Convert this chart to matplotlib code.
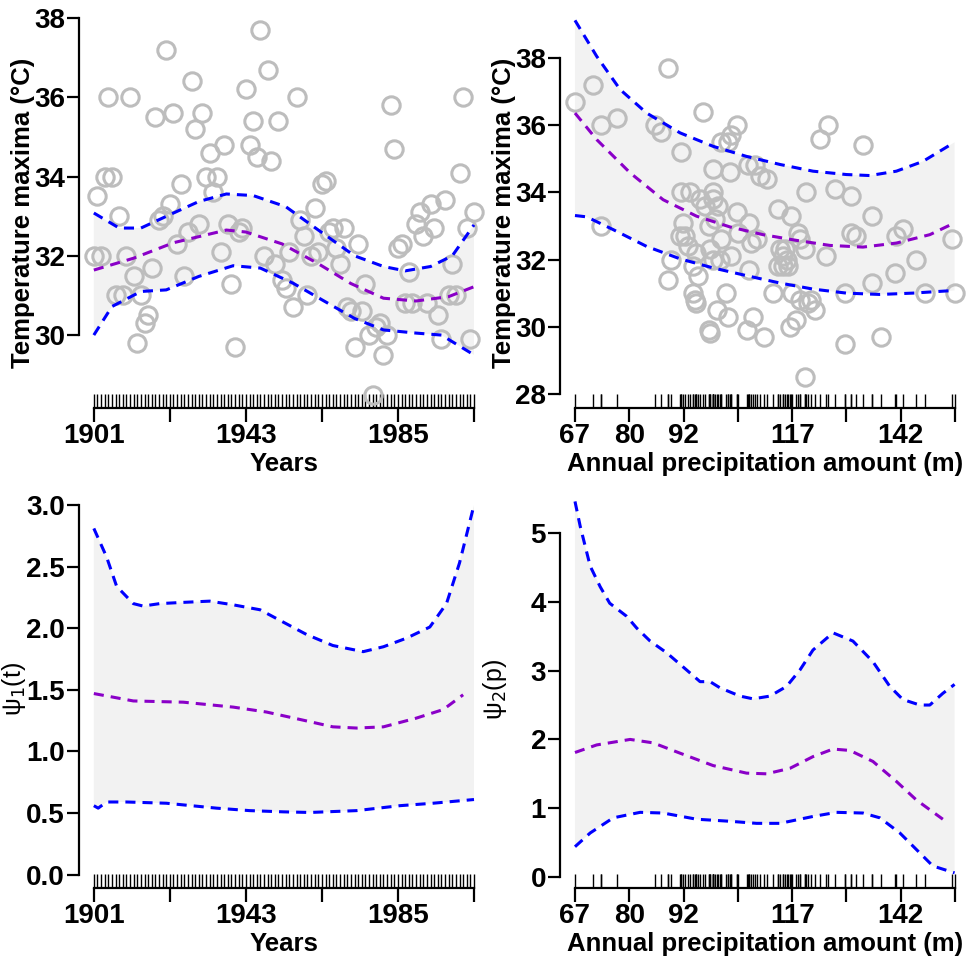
import numpy as np
import matplotlib
matplotlib.use("Agg")
import matplotlib.pyplot as plt
from matplotlib.ticker import FixedLocator

plt.rcParams['font.family'] = ['Liberation Sans', 'DejaVu Sans']

# --- data ---
years = np.arange(1901, 2007)
tmax = [32.0, 33.5, 32.0, 34.0, 36.0, 34.0, 31.0, 33.0, 31.0, 32.0,
        36.0, 31.5, 29.8, 31.0, 30.3, 30.5, 31.7, 35.5, 32.9, 33.0,
        37.2, 33.3, 35.6, 32.3, 33.8, 31.5, 32.6, 36.4, 35.2, 32.8,
        35.6, 34.0, 34.6, 33.6, 34.0, 32.1, 34.8, 32.8, 31.3, 29.7,
        32.6, 32.7, 36.2, 34.8, 35.4, 34.5, 37.7, 32.0, 36.7, 34.4,
        31.8, 35.4, 31.4, 31.2, 32.1, 30.7, 36.0, 32.9, 32.5, 31.0,
        32.0, 33.2, 32.1, 33.8, 33.9, 32.6, 32.7, 32.2, 31.8, 32.7,
        30.7, 30.6, 29.7, 32.3, 30.6, 31.3, 30.0, 28.5, 30.2, 30.3,
        29.5, 30.0, 35.8, 34.7, 32.2, 32.3, 30.8, 31.6, 30.8, 32.8,
        33.1, 32.5, 30.8, 33.3, 32.7, 30.5, 29.9, 33.4, 31.0, 31.8,
        31.0, 34.1, 36.0, 32.7, 29.9, 33.1]

# temperature vs precipitation pairs
precip = [67.0, 71.1, 73.1, 73.0, 76.6, 85.4, 86.9, 88.5, 88.5, 89.0,
          91.4, 91.5, 93.5, 91.9, 91.2, 92.3, 93.1, 94.2, 94.8, 95.4,
          94.2, 94.6, 94.9, 96.5, 95.8, 96.9, 98.8, 98.8, 97.9, 98.1,
          98.8, 98.8, 99.2, 100.0, 100.7, 100.3, 97.9, 98.1, 99.6, 101.7,
          102.3, 100.7, 102.3, 103.0, 104.2, 102.7, 103.0, 104.2, 104.6, 107.1,
          107.1, 106.9, 108.4, 109.6, 111.2, 107.5, 108.8, 106.5, 107.9, 110.5,
          112.6, 113.8, 116.8, 114.2, 115.0, 115.4, 115.8, 113.8, 115.0, 116.1,
          116.9, 116.5, 118.0, 118.4, 118.8, 119.9, 120.1, 119.9, 118.8, 120.7,
          121.4, 122.2, 123.4, 125.3, 124.9, 126.8, 129.1, 129.1, 130.6, 130.6,
          131.8, 133.3, 135.3, 135.5, 137.4, 140.6, 141.0, 142.5, 145.6, 147.7,
          153.9, 154.4]
tmax_p = [36.7, 37.2, 36.0, 33.0, 36.2, 36.0, 35.8, 37.7, 31.4, 32.0,
          35.2, 34.0, 34.0, 33.1, 32.7, 32.7, 32.4, 31.8, 32.2, 31.5,
          31.0, 30.8, 30.7, 36.4, 33.8, 33.6, 34.0, 33.8, 33.0, 32.3,
          32.0, 34.7, 33.2, 33.6, 32.6, 32.0, 29.9, 29.8, 30.5, 31.0,
          30.3, 35.5, 35.5, 35.7, 36.0, 34.6, 32.1, 33.4, 32.8, 33.1,
          31.7, 34.8, 34.8, 34.5, 34.4, 32.5, 32.6, 29.9, 30.3, 29.7,
          31.0, 33.5, 33.3, 32.3, 32.1, 32.3, 32.0, 31.8, 31.8, 31.8,
          31.0, 30.0, 30.2, 32.8, 32.6, 32.3, 34.0, 28.5, 30.8, 30.7,
          30.8, 30.5, 35.6, 36.0, 32.1, 34.1, 31.0, 29.5, 33.9, 32.8,
          32.7, 35.4, 33.3, 31.3, 29.7, 31.6, 32.7, 32.9, 32.0, 31.0,
          32.6, 31.0]

# fitted curve + band, temperature vs year
fy_mid = [1901, 1912, 1923, 1937.6, 1943, 1953, 1963, 1972, 1981, 1990, 1999, 2006]
fy_mid_v = [31.64, 31.94, 32.33, 32.65, 32.6, 32.3, 31.8, 31.3, 30.93, 30.86, 30.97, 31.22]
fy_up = [1901, 1908, 1914, 1923, 1930, 1937.6, 1945, 1954, 1963, 1973, 1981, 1987, 1994, 2000, 2006]
fy_up_v = [33.08, 32.7, 32.7, 33.08, 33.37, 33.56, 33.52, 33.24, 32.65, 32.0, 31.73, 31.62, 31.73, 32.0, 32.78]
fy_lo = [1901, 1906, 1914, 1921, 1930, 1939.5, 1947, 1956, 1964, 1973, 1981, 1990, 1997, 2006]
fy_lo_v = [30.0, 30.72, 31.1, 31.14, 31.48, 31.75, 31.69, 31.31, 30.89, 30.42, 30.13, 30.05, 30.0, 29.5]

# fitted curve + band, temperature vs precipitation
fp_mid = [67, 72, 79.7, 87.3, 95, 102.7, 110.3, 118, 125.7, 133.3, 141, 148.7, 154.4]
fp_mid_v = [36.36, 35.57, 34.58, 33.78, 33.29, 32.97, 32.74, 32.57, 32.42, 32.37, 32.49, 32.74, 33.09]
fp_up = [67, 72, 77.4, 83.5, 91.2, 98.8, 106.5, 114.2, 121.8, 129.5, 134.9, 141, 147.1, 154.4]
fp_up_v = [39.12, 38.05, 37.06, 36.36, 35.77, 35.37, 35.07, 34.83, 34.63, 34.53, 34.5, 34.63, 34.92, 35.49]
fp_lo = [67, 69.7, 75.8, 83.5, 91.2, 98.8, 106.5, 114.2, 121.8, 129.5, 137.2, 144.8, 154.4]
fp_lo_v = [33.31, 33.27, 32.89, 32.39, 32.02, 31.75, 31.52, 31.3, 31.12, 31.0, 30.96, 31.0, 31.08]

# psi1(t)
p1_x = [1901, 1904.5, 1907.3, 1911.9, 1914.6, 1919.2, 1925.7, 1933, 1939.5, 1946.9, 1953.3,
        1959.7, 1967, 1975.4, 1981, 1987.4, 1993.8, 1998.4, 2002, 2006]
p1_up = [2.81, 2.58, 2.34, 2.2, 2.18, 2.2, 2.21, 2.22, 2.19, 2.15, 2.05,
         1.95, 1.86, 1.81, 1.85, 1.92, 2.01, 2.2, 2.53, 3.0]
p1_mx = [1901, 1911.9, 1925.7, 1939.5, 1948.7, 1957.9, 1967, 1973.6, 1981, 1990, 1997.5, 2003]
p1_mid = [1.47, 1.41, 1.40, 1.36, 1.32, 1.26, 1.2, 1.19, 1.2, 1.27, 1.34, 1.46]
p1_lx = [1901, 1902.2, 1904.5, 1910, 1921, 1934.9, 1944, 1953.3, 1960.7, 1973.6, 1985.5, 1994.7, 2006]
p1_lo = [0.56, 0.54, 0.59, 0.59, 0.58, 0.54, 0.52, 0.51, 0.505, 0.52, 0.56, 0.58, 0.61]

# psi2(p)
p2_ux = [67, 68.2, 70.5, 72.8, 75, 78.9, 81.2, 84.3, 88.1, 92.7, 95.8, 98.1, 100.4, 105, 108,
         111.9, 115.7, 118.8, 121.8, 126.4, 131, 135.6, 139.5, 142.5, 146.4, 148.7, 151.7, 154.4]
p2_up = [5.46, 5.1, 4.52, 4.22, 3.98, 3.79, 3.62, 3.43, 3.26, 3.01, 2.84, 2.84, 2.75, 2.63, 2.59,
         2.63, 2.77, 3.01, 3.3, 3.55, 3.43, 3.13, 2.77, 2.58, 2.5, 2.5, 2.67, 2.8]
p2_mx = [67, 72, 79.7, 85, 91.2, 98.8, 106.5, 111.1, 116.5, 121.8, 126.4, 130.3, 135.6, 141, 145.6, 151.7]
p2_mid = [1.81, 1.92, 2.0, 1.95, 1.8, 1.62, 1.51, 1.50, 1.58, 1.75, 1.86, 1.84, 1.68, 1.39, 1.12, 0.84]
p2_lx = [67, 70.5, 75.8, 82, 87.3, 95, 102.7, 108.8, 114.2, 121.8, 127.2, 133.3, 137.2, 141.8, 145.6, 149.4, 154.4]
p2_lo = [0.44, 0.64, 0.86, 0.94, 0.93, 0.84, 0.81, 0.78, 0.78, 0.88, 0.94, 0.93, 0.86, 0.64, 0.40, 0.16, 0.06]

year_ticks = [1901, 1922, 1943, 1964, 1985, 2006]
year_labels = ['1901', '', '1943', '', '1985', '']
prec_ticks = [67, 79.5, 92, 104.5, 117, 129.5, 142, 154.5]
prec_labels = ['67', '80', '92', '', '117', '', '142', '']

BLUE = '#0000ff'
PURPLE = '#8a00c8'
FILL = '#f2f2f2'
GREY = '#bdbdbd'
DASH = (3.3, 2.3)
TICK_FS = 20
LAB_FS = 18.5


def band(ax, xu, yu, xl, yl, xm, ym):
    ax.fill(np.concatenate([xu, xl[::-1]]), np.concatenate([yu, yl[::-1]]),
            color=FILL, lw=0, zorder=1)
    for x, y, c in [(xu, yu, BLUE), (xl, yl, BLUE), (xm, ym, PURPLE)]:
        ax.plot(x, y, color=c, lw=2.2, dashes=DASH, zorder=4, clip_on=False)


def style(ax, xticks, xlabels, rug, xlim, ylim, yticks, ylab, bold_ylab=True):
    ax.set_xlim(*xlim)
    ax.set_ylim(*ylim)
    for s in ['top', 'right']:
        ax.spines[s].set_visible(False)
    ax.spines['left'].set_linewidth(1.6)
    ax.spines['bottom'].set_linewidth(1.6)
    ax.spines['left'].set_bounds(yticks[0], yticks[-1])
    ax.spines['bottom'].set_bounds(xticks[0], xticks[-1])
    ax.set_xticks(xticks)
    ax.set_xticklabels(xlabels)
    ax.xaxis.set_minor_locator(FixedLocator(rug))
    ax.xaxis.remove_overlapping_locs = False
    ax.set_yticks(yticks)
    ax.tick_params(axis='both', which='major', direction='out', length=9, width=1.6,
                   labelsize=TICK_FS, pad=1)
    ax.tick_params(axis='x', which='major', length=10)
    ax.tick_params(axis='x', which='minor', direction='in', length=10, width=1.0,
                   color='black')
    for lab in ax.get_xticklabels() + ax.get_yticklabels():
        lab.set_fontweight('bold')
    if bold_ylab:
        ax.set_ylabel(ylab, fontsize=LAB_FS, fontweight='bold')
        ax.yaxis.set_label_coords(-0.112, 0.5)
    else:
        ax.set_ylabel(ylab, fontsize=18, fontweight='normal')
        ax.yaxis.set_label_coords(-0.13, 0.51)


fig = plt.figure(figsize=(9.69, 9.59), dpi=100)
W, H = 969, 959
ax1 = fig.add_axes([79 / W, (H - 408) / H, 395 / W, 390 / H])
ax2 = fig.add_axes([560 / W, (H - 408) / H, 395 / W, 390 / H])
ax3 = fig.add_axes([79 / W, (H - 888) / H, 395 / W, 390 / H])
ax4 = fig.add_axes([560 / W, (H - 888) / H, 395 / W, 390 / H])

# top left
band(ax1, fy_up, fy_up_v, fy_lo, fy_lo_v, fy_mid, fy_mid_v)
ax1.plot(years, tmax, 'o', ms=12.5, mfc='none', mec=GREY, mew=2.2, zorder=3, clip_on=False)
style(ax1, year_ticks, year_labels, years, (1896.9, 2006), (28.16, 38.0),
      [30, 32, 34, 36, 38], 'Temperature maxima (°C)')
ax1.set_xlabel('Years', fontsize=LAB_FS, fontweight='bold')

# top right
band(ax2, fp_up, fp_up_v, fp_lo, fp_lo_v, fp_mid, fp_mid_v)
ax2.plot(precip, tmax_p, 'o', ms=12.5, mfc='none', mec=GREY, mew=2.2, zorder=3, clip_on=False)
style(ax2, prec_ticks, prec_labels, precip, (63.55, 154.5), (27.58, 39.19),
      [28, 30, 32, 34, 36, 38], 'Temperature maxima (°C)')
ax2.set_xlabel('Annual precipitation amount (m)', fontsize=LAB_FS, fontweight='bold')

# bottom left
band(ax3, p1_x, p1_up, p1_lx, p1_lo, p1_mx, p1_mid)
style(ax3, year_ticks, year_labels, years, (1896.9, 2006), (-0.108, 3.057),
      [0.0, 0.5, 1.0, 1.5, 2.0, 2.5, 3.0], r'ψ$_1$(t)', bold_ylab=False)
ax3.set_yticklabels(['0.0', '0.5', '1.0', '1.5', '2.0', '2.5', '3.0'], fontweight='bold')
ax3.set_xlabel('Years', fontsize=LAB_FS, fontweight='bold')

# bottom right
band(ax4, p2_ux, p2_up, p2_lx, p2_lo, p2_mx, p2_mid)
style(ax4, prec_ticks, prec_labels, precip, (63.55, 154.5), (-0.16, 5.51),
      [0, 1, 2, 3, 4, 5], r'ψ$_2$(p)', bold_ylab=False)
ax4.set_xlabel('Annual precipitation amount (m)', fontsize=LAB_FS, fontweight='bold')

for ax in (ax1, ax2, ax3, ax4):
    ax.xaxis.set_label_coords(0.52, -0.112)

fig.savefig('out.png', dpi=100)
